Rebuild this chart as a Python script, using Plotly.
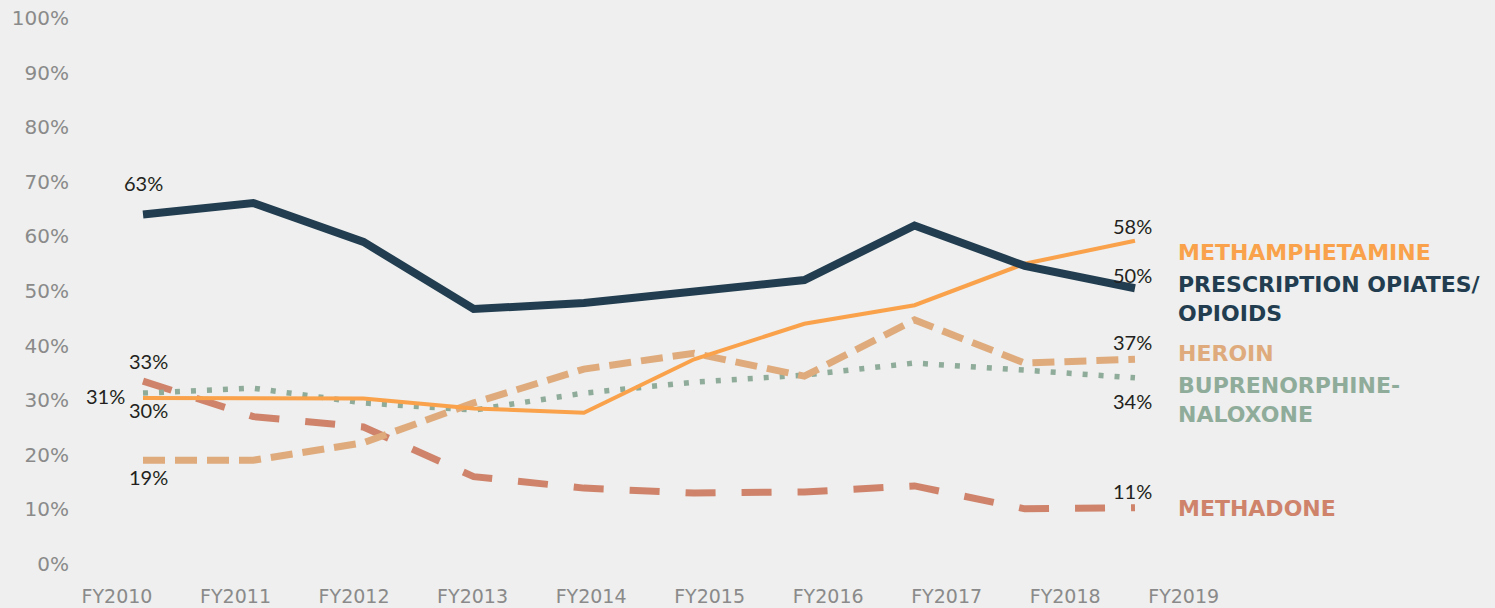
import plotly.graph_objects as go

years = ["FY2010", "FY2011", "FY2012", "FY2013", "FY2014", "FY2015", "FY2016", "FY2017", "FY2018", "FY2019"]
x_idx = list(range(len(years)))

prescription = [64.0, 66.1, 59.0, 46.7, 47.8, 50.0, 52.0, 62.0, 54.6, 50.5]
methamphetamine = [30.4, 30.4, 30.3, 28.5, 27.7, 37.5, 44.0, 47.4, 55.0, 59.2]
heroin = [19.0, 19.0, 22.2, 29.5, 35.7, 38.6, 34.4, 44.7, 36.8, 37.5]
buprenorphine = [31.3, 32.2, 29.5, 28.2, 31.3, 33.3, 34.6, 36.8, 35.5, 34.1]
methadone = [33.5, 27.0, 25.1, 16.0, 13.9, 13.0, 13.2, 14.3, 10.1, 10.3]

y_ticks = [0, 10, 20, 30, 40, 50, 60, 70, 80, 90, 100]

series_names = ["METHAMPHETAMINE", "PRESCRIPTION OPIATES/<br>OPIOIDS", "HEROIN",
                "BUPRENORPHINE-<br>NALOXONE", "METHADONE"]

BG = "#eeefee"
NAVY = "#223d50"
ORANGE = "#f9a24b"
TAN = "#dfab7c"
GREEN = "#8fac9a"
RUST = "#cf836b"

fig = go.Figure()
fig.add_trace(go.Scatter(x=x_idx, y=methadone, mode="lines", name="Methadone",
                         line=dict(color=RUST, width=7, dash="30px,26px")))
fig.add_trace(go.Scatter(x=x_idx, y=buprenorphine, mode="lines", name="Buprenorphine-Naloxone",
                         line=dict(color=GREEN, width=5.5, dash="5px,11px")))
fig.add_trace(go.Scatter(x=x_idx, y=heroin, mode="lines", name="Heroin",
                         line=dict(color=TAN, width=7, dash="22px,10px")))
fig.add_trace(go.Scatter(x=x_idx, y=methamphetamine, mode="lines", name="Methamphetamine",
                         line=dict(color=ORANGE, width=4)))
fig.add_trace(go.Scatter(x=x_idx, y=prescription, mode="lines", name="Prescription Opiates/Opioids",
                         line=dict(color=NAVY, width=8)))

val_font = dict(family="Lato, 'Open Sans', sans-serif", size=20, color="#231f20")
ann = []
def vlabel(x, y, text, xs, ys, xanchor="center"):
    ann.append(dict(x=x, y=y, xref="x", yref="y", text=text, showarrow=False,
                    xshift=xs, yshift=ys, xanchor=xanchor, yanchor="middle", font=val_font))

vlabel(0, prescription[0], "63%", 0, 32)
vlabel(0, methadone[0], "33%", 5, 20)
vlabel(0, buprenorphine[0], "31%", -16, -3, xanchor="right")
vlabel(0, methamphetamine[0], "30%", 5, -12)
vlabel(0, heroin[0], "19%", 5, -17)
vlabel(9, methamphetamine[9], "58%", -2, 15)
vlabel(9, prescription[9], "50%", -2, 13)
vlabel(9, heroin[9], "37%", -2, 17)
vlabel(9, buprenorphine[9], "34%", -2, -23)
vlabel(9, methadone[9], "11%", -2, 17)

name_colors = [ORANGE, NAVY, TAN, GREEN, RUST]
name_y = [57.0, 48.5, 38.6, 30.1, 10.1]
for name, col, yy in zip(series_names, name_colors, name_y):
    ann.append(dict(x=9, y=yy, xref="x", yref="y", text="<b>" + name + "</b>", showarrow=False,
                    xshift=41, xanchor="left", yanchor="middle", align="left",
                    font=dict(family="'DejaVu Sans', sans-serif", size=22, color=col)))

tick_pos = [-0.236 + 1.0753 * i for i in range(len(years))]

fig.update_layout(
    width=1495, height=608, autosize=False,
    paper_bgcolor=BG, plot_bgcolor=BG,
    margin=dict(l=80, r=5, t=18, b=44),
    showlegend=False,
    annotations=ann,
    xaxis=dict(range=[-0.5717, 12.221], tickvals=tick_pos, ticktext=years,
               showgrid=False, zeroline=False, showline=False, ticks="",
               ticklabelstandoff=19, automargin=False,
               tickfont=dict(family="'DejaVu Sans', sans-serif", size=19, color="#8a8a8a")),
    yaxis=dict(range=[0, 100], tickvals=y_ticks, ticktext=[f"{v}%" for v in y_ticks],
               showgrid=False, zeroline=False, showline=False, ticks="",
               ticklabelstandoff=10, automargin=False,
               tickfont=dict(family="'DejaVu Sans', sans-serif", size=20, color="#8a8a8a")),
)

fig.write_html("out.html", config={"displayModeBar": False},
               post_script="document.body.style.margin='0px';document.body.style.overflow='hidden';"
                           "document.documentElement.style.background='" + BG + "';")
